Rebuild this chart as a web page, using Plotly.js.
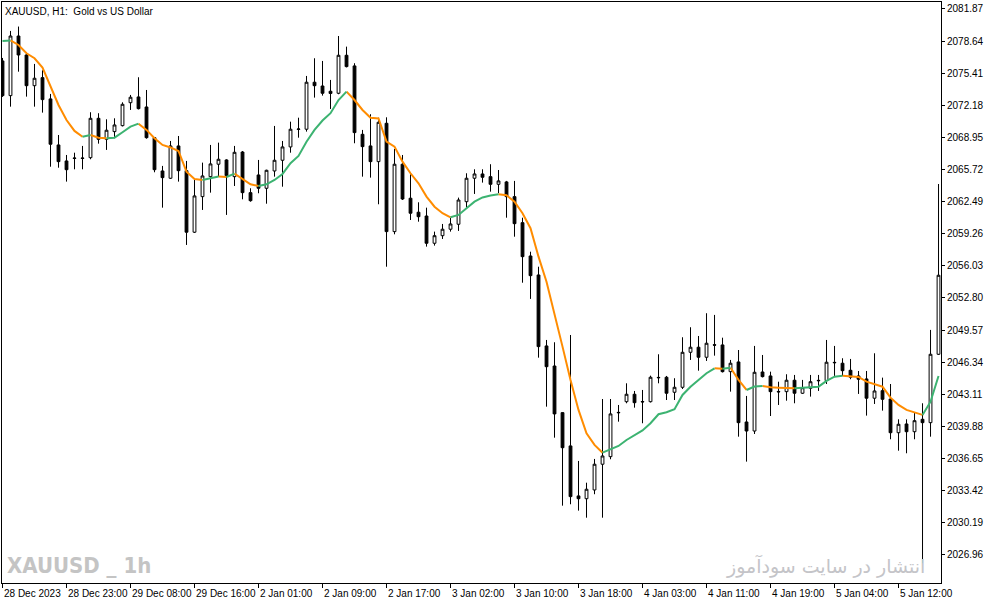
<!DOCTYPE html>
<html>
<head>
<meta charset="utf-8">
<script src="https://cdn.plot.ly/plotly-3.0.1.min.js"></script>
<style>html,body{margin:0;padding:0;background:#fff;}#chart{width:994px;height:605px;}</style>
</head>
<body>
<div id="chart"></div>
<script>
const xLabels = ['28 Dec 2023','28 Dec 23:00','29 Dec 08:00','29 Dec 16:00','2 Jan 01:00','2 Jan 09:00','2 Jan 17:00','3 Jan 02:00','3 Jan 10:00','3 Jan 18:00','4 Jan 03:00','4 Jan 11:00','4 Jan 19:00','5 Jan 04:00','5 Jan 12:00'];
const xLabelBars = [0,8,16,24,32,40,48,56,64,72,80,88,96,104,112];
const yTicks = [2081.87,2078.64,2075.41,2072.18,2068.95,2065.72,2062.49,2059.26,2056.03,2052.80,2049.57,2046.34,2043.11,2039.88,2036.65,2033.42,2030.19,2026.96];

const open = [
2076.64,2073.15,2079.15,2077.24,2074.15,2074.96,2072.82,2068.19,2066.58,2066.88,
2066.88,2066.91,2070.87,2068.76,2069.53,2070.13,2072.44,2073.02,2072.01,2068.92,
2065.57,2064.84,2068.09,2065.60,2059.41,2062.99,2065.00,2066.25,2066.68,2065.00,
2067.48,2063.39,2065.17,2063.83,2065.57,2066.65,2067.99,2069.75,2069.77,2074.50,
2074.12,2073.59,2073.39,2077.21,2076.14,2069.26,2068.09,2066.51,2070.37,2059.47,
2066.25,2062.83,2061.42,2061.04,2058.30,2059.06,2059.71,2060.21,2062.48,2064.84,
2065.27,2065.00,2064.23,2064.47,2062.99,2060.37,2057.02,2055.11,2047.97,2045.95,
2041.26,2037.91,2032.88,2032.60,2033.48,2036.07,2036.83,2041.24,2042.36,2043.11,
2042.38,2042.36,2044.76,2044.82,2043.31,2043.81,2047.33,2047.84,2046.83,2048.09,
2048.07,2045.38,2046.36,2040.32,2039.41,2045.35,2044.95,2043.39,2043.37,2044.52,
2043.21,2043.71,2044.46,2044.48,2046.27,2046.23,2045.52,2044.95,2044.65,2042.71,
2043.47,2042.63,2039.24,2040.12,2039.34,2040.59,2040.25,2047.13];
const high = [
2076.94,2079.66,2080.10,2077.44,2076.34,2075.70,2073.32,2069.19,2067.18,2067.41,
2068.09,2071.48,2071.38,2070.77,2070.87,2072.48,2073.22,2075.00,2073.72,2068.99,
2066.08,2068.59,2069.09,2066.58,2064.67,2066.41,2068.19,2068.42,2066.75,2068.09,
2067.58,2063.83,2066.68,2065.70,2070.10,2068.59,2070.53,2070.93,2075.13,2076.91,
2076.64,2074.73,2079.15,2078.08,2076.41,2069.70,2071.28,2070.93,2070.97,2067.79,
2067.18,2065.24,2062.42,2061.88,2059.47,2060.24,2060.87,2062.89,2065.34,2065.74,
2065.74,2066.25,2065.67,2064.57,2064.57,2060.87,2057.45,2055.94,2048.57,2048.34,
2041.30,2049.07,2036.40,2034.21,2036.60,2042.63,2042.63,2042.03,2044.21,2043.44,
2043.54,2044.98,2047.13,2044.95,2044.72,2048.84,2049.85,2048.97,2051.26,2051.09,
2048.80,2046.56,2047.56,2042.94,2047.97,2047.06,2045.38,2044.37,2045.12,2045.05,
2044.55,2045.05,2045.05,2048.57,2047.97,2046.73,2046.66,2045.45,2045.45,2047.23,
2044.78,2044.14,2040.59,2040.59,2041.30,2042.20,2049.58,2064.26];
const low = [
2073.02,2072.04,2075.56,2073.05,2072.04,2071.44,2066.00,2065.90,2064.50,2065.74,
2065.74,2066.75,2068.32,2067.69,2068.86,2070.05,2071.71,2071.76,2068.82,2065.44,
2061.88,2064.77,2064.50,2058.13,2059.33,2061.65,2063.39,2065.00,2061.15,2064.06,
2062.72,2062.48,2063.33,2062.28,2065.00,2063.99,2067.41,2068.92,2069.53,2072.95,
2073.15,2071.81,2073.29,2075.99,2068.36,2065.00,2064.90,2062.22,2055.94,2059.20,
2062.65,2060.64,2060.47,2057.96,2058.06,2058.73,2059.47,2059.54,2061.88,2063.26,
2064.40,2063.49,2063.33,2060.87,2058.96,2054.33,2052.70,2046.79,2041.86,2038.74,
2031.90,2032.04,2031.40,2030.69,2033.05,2030.69,2036.57,2040.35,2042.20,2041.76,
2040.19,2042.28,2044.21,2042.53,2042.53,2043.64,2046.56,2045.48,2046.46,2046.99,
2045.30,2043.37,2038.84,2036.33,2039.11,2044.80,2040.92,2042.03,2042.46,2042.20,
2043.14,2042.87,2043.44,2044.14,2044.95,2044.95,2044.62,2043.14,2040.96,2042.13,
2041.46,2038.58,2037.43,2037.17,2038.58,2026.11,2038.84,2047.06];
const close = [
2073.15,2079.15,2077.24,2074.15,2074.90,2072.75,2068.26,2066.51,2065.70,2066.84,
2066.84,2070.87,2068.76,2069.67,2070.20,2072.28,2072.99,2071.84,2068.92,2065.70,
2064.90,2068.09,2065.60,2059.41,2063.06,2065.07,2066.28,2066.75,2065.10,2067.45,
2063.39,2062.58,2063.83,2065.64,2066.65,2067.99,2069.77,2069.79,2074.50,2074.15,
2073.39,2073.37,2077.21,2076.07,2069.43,2068.02,2066.51,2070.47,2059.47,2066.25,
2062.75,2061.32,2060.97,2058.30,2059.06,2059.71,2060.24,2062.65,2064.84,2065.27,
2064.94,2064.23,2064.57,2062.99,2060.27,2056.95,2055.04,2047.90,2045.88,2041.13,
2037.73,2032.81,2032.60,2033.55,2036.07,2036.90,2041.13,2041.28,2043.11,2042.26,
2042.34,2044.82,2044.80,2043.21,2043.81,2047.33,2047.84,2046.83,2048.24,2048.05,
2045.38,2046.23,2040.25,2039.41,2045.32,2044.88,2043.37,2043.35,2044.52,2043.21,
2043.77,2044.37,2044.50,2046.33,2046.31,2045.48,2044.82,2044.62,2042.71,2043.44,
2042.60,2039.24,2040.09,2039.34,2040.45,2040.25,2047.13,2055.08];
const ma = [
2078.65,2078.70,2078.25,2077.41,2076.91,2075.97,2074.05,2072.21,2070.70,2069.60,
2069.02,2069.19,2068.92,2068.86,2068.92,2069.47,2070.03,2070.33,2069.70,2068.86,
2068.19,2067.94,2067.58,2065.50,2064.77,2064.67,2064.87,2065.02,2064.97,2065.30,
2064.77,2064.23,2064.06,2064.23,2064.67,2065.27,2066.35,2067.08,2068.52,2069.70,
2070.65,2071.38,2072.71,2073.55,2072.71,2071.71,2070.93,2070.85,2068.52,2068.02,
2066.51,2065.34,2064.33,2062.99,2061.98,2061.32,2060.91,2061.15,2061.82,2062.48,
2062.91,2063.11,2063.23,2063.13,2062.48,2061.32,2059.81,2056.95,2054.43,2051.26,
2047.90,2044.55,2041.53,2039.18,2038.01,2037.23,2037.57,2037.91,2038.51,2039.01,
2039.47,2040.19,2041.10,2041.30,2041.60,2043.04,2043.87,2044.55,2045.22,2045.72,
2045.67,2045.78,2044.55,2043.54,2043.89,2043.94,2043.81,2043.77,2043.75,2043.72,
2043.76,2043.79,2043.87,2044.45,2044.88,2044.97,2044.93,2044.85,2044.38,2044.14,
2043.87,2042.77,2042.03,2041.53,2041.30,2041.03,2042.36,2044.95];

const bars = open.map((_, i) => i);

function segments(wantUp) {
  const xs = [], ys = [];
  for (let i = 1; i < ma.length; i++) {
    const up = ma[i] >= ma[i - 1];
    if (up !== wantUp) continue;
    if (xs.length === 0 || xs[xs.length - 1] !== i - 1) {
      if (xs.length) { xs.push(null); ys.push(null); }
      xs.push(i - 1); ys.push(ma[i - 1]);
    }
    xs.push(i); ys.push(ma[i]);
  }
  return {xs, ys};
}
const upSeg = segments(true), downSeg = segments(false);

const traces = [
  {type:'candlestick', x:bars, open:open, high:high, low:low, close:close,
   increasing:{line:{color:'#000000', width:1}, fillcolor:'#ffffff'},
   decreasing:{line:{color:'#000000', width:1}, fillcolor:'#000000'},
   whiskerwidth:0, hoverinfo:'skip', showlegend:false},
  {type:'scatter', mode:'lines', x:downSeg.xs, y:downSeg.ys, connectgaps:false,
   line:{color:'#ff8c00', width:2}, hoverinfo:'skip', showlegend:false},
  {type:'scatter', mode:'lines', x:upSeg.xs, y:upSeg.ys, connectgaps:false,
   line:{color:'#3cb371', width:2}, hoverinfo:'skip', showlegend:false}
];

const annotations = xLabels.map((t, i) => ({
  text:t, x:xLabelBars[i], xref:'x', y:0, yref:'paper', xanchor:'left', yanchor:'top',
  yshift:-3, xshift:-1, showarrow:false, font:{family:'Liberation Sans, Arial, sans-serif', size:10, color:'#000'}
}));
annotations.push({text:'XAUUSD,\u00a0H1:\u00a0\u00a0Gold\u00a0vs\u00a0US\u00a0Dollar', x:0, xref:'paper', xshift:1, y:1, yref:'paper', yshift:-2,
  xanchor:'left', yanchor:'top', showarrow:false, font:{family:'Liberation Sans, Arial, sans-serif', size:10, color:'#000'}});
annotations.push({text:'<b>XAUUSD _ 1h</b>', x:0, xref:'paper', xshift:3, y:0, yref:'paper', yshift:3,
  xanchor:'left', yanchor:'bottom', showarrow:false, font:{family:'DejaVu Sans Condensed, Liberation Sans Narrow, sans-serif', size:22, color:'#c4c4c4'}});
annotations.push({text:'انتشار در سایت سودآموز', x:1, xref:'paper', xshift:-14, y:0, yref:'paper', yshift:3,
  xanchor:'right', yanchor:'bottom', showarrow:false, font:{family:'DejaVu Sans, sans-serif', size:19, color:'#c4c4c8'}});

const layout = {
  width:994, height:605,
  margin:{l:2, r:53, t:2, b:22, pad:0},
  paper_bgcolor:'#ffffff', plot_bgcolor:'#ffffff',
  showlegend:false, boxgap:0.5, dragmode:false,
  xaxis:{range:[-0.0625, 117.31], rangeslider:{visible:false}, showgrid:false, zeroline:false,
    showline:true, mirror:true, linecolor:'#000', linewidth:1,
    ticks:'outside', ticklen:4, tickcolor:'#000', tickwidth:1,
    tickmode:'array', tickvals:xLabelBars, showticklabels:false, fixedrange:true},
  yaxis:{range:[2024.12, 2082.57], side:'right', showgrid:false, zeroline:false,
    showline:true, mirror:true, linecolor:'#000', linewidth:1,
    ticks:'outside', ticklen:3, tickcolor:'#000', tickwidth:1,
    tickmode:'array', tickvals:yTicks, ticktext:yTicks.map(v => v.toFixed(2)),
    tickfont:{family:'Liberation Sans, Arial, sans-serif', size:10, color:'#000'}, fixedrange:true},
  annotations:annotations
};

Plotly.newPlot('chart', traces, layout, {staticPlot:true, displayModeBar:false});
</script>
</body>
</html>
